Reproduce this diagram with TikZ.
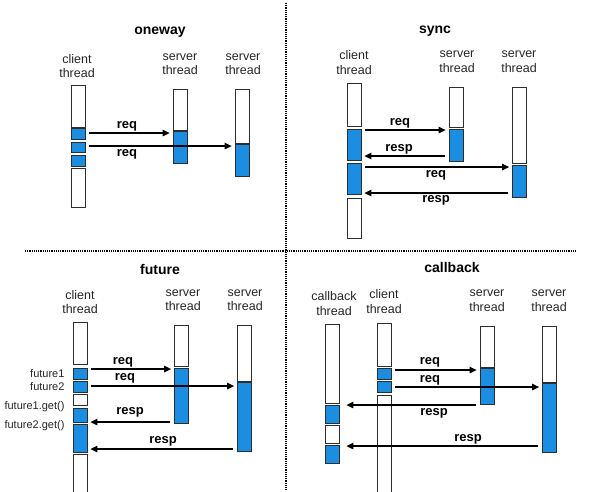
\documentclass[tikz,border=0pt]{standalone}
\usepackage{fontspec}
\setmainfont{Liberation Sans}
\usetikzlibrary{arrows.meta}
\definecolor{barblue}{RGB}{28,142,226}
\definecolor{edge}{RGB}{45,45,45}
\newcommand\bx[5]{\node[#1,minimum height={(#5-#4)*1pt}] (#2) at (#3,{(#4+#5)/2}) {};}
\tikzset{
  wb/.style={draw=edge,line width=0.8pt,fill=white,minimum width=14pt,inner sep=0pt},
  bb/.style={draw=edge,line width=0.8pt,fill=barblue,minimum width=14pt,inner sep=0pt},
  arr/.style={line width=1.3pt,-{Triangle[length=7pt,width=6.5pt]},shorten <=4pt,shorten >=3pt},
  ttl/.style={font=\fontsize{14}{16}\selectfont\bfseries},
  thr/.style={font=\fontsize{12.5}{14.5}\selectfont,align=center,text=black!85},
  lbl/.style={font=\fontsize{13}{15}\selectfont\bfseries},
  side/.style={font=\fontsize{11}{13}\selectfont,anchor=east,text=black!85},
  divider/.style={line width=1.1pt,dash pattern=on 1.1pt off 1.1pt}
}
\begin{document}
\begin{tikzpicture}[x=1pt,y=-1pt]
\useasboundingbox (0,0) rectangle (600,491);
\fill[white] (0,0) rectangle (600,491);
% dividers
\draw[divider] (286,3) -- (286,491);
\draw[divider] (25,251) -- (577,251);

% ===== oneway =====
\node[ttl] (ow-t) at (160,32) {oneway};
\node[thr] (ow-tc) at (77,66) {client\\thread};
\node[thr] (ow-ta) at (180,64) {server\\thread};
\node[thr] (ow-tb) at (243,64) {server\\thread};
\bx{wb}{ow-c1}{78}{85}{127}
\bx{bb}{ow-c2}{78}{128}{139}
\bx{bb}{ow-c3}{78}{142}{152}
\bx{bb}{ow-c4}{78}{155}{166}
\bx{wb}{ow-c5}{78}{168}{207}
\bx{wb}{ow-a1}{180}{89}{130}
\bx{bb}{ow-a2}{180}{131}{163}
\bx{wb}{ow-b1}{242}{89}{143}
\bx{bb}{ow-b2}{242}{144}{176}
\draw[arr] (ow-c2.east |- 0,133) -- (ow-a2.west |- 0,133);
\draw[arr] (ow-c3.east |- 0,146) -- (ow-b2.west |- 0,146);
\node[lbl] (ow-l1) at (127,126) {req};
\node[lbl] (ow-l2) at (127,154) {req};

% ===== sync =====
\node[ttl] (sy-t) at (435,31) {sync};
\node[thr] (sy-tc) at (354,62.5) {client\\thread};
\node[thr] (sy-ta) at (457,61.5) {server\\thread};
\node[thr] (sy-tb) at (519,61.5) {server\\thread};
\bx{wb}{sy-c1}{354}{83}{126}
\bx{bb}{sy-c2}{354}{129}{160}
\bx{bb}{sy-c3}{354}{163}{194}
\bx{wb}{sy-c4}{354}{198}{238}
\bx{wb}{sy-a1}{456}{87}{127}
\bx{bb}{sy-a2}{456}{129}{161}
\bx{wb}{sy-b1}{519.5}{87}{163}
\bx{bb}{sy-b2}{519.5}{165}{197}
\draw[arr] (sy-c2.east |- 0,130) -- (sy-a2.west |- 0,130);
\draw[arr] (sy-a2.west |- 0,156) -- (sy-c2.east |- 0,156);
\draw[arr] (sy-c3.east |- 0,167) -- (sy-b2.west |- 0,167);
\draw[arr] (sy-b2.west |- 0,193) -- (sy-c3.east |- 0,193);
\node[lbl] (sy-l1) at (400,123) {req};
\node[lbl] (sy-l2) at (399,149) {resp};
\node[lbl] (sy-l3) at (436,175) {req};
\node[lbl] (sy-l4) at (436,200) {resp};

% ===== future =====
\node[ttl] (fu-t) at (160,269) {future};
\node[thr] (fu-tc) at (80,302) {client\\thread};
\node[thr] (fu-ta) at (183,300) {server\\thread};
\node[thr] (fu-tb) at (245,300) {server\\thread};
\bx{wb}{fu-c1}{80}{322}{364}
\bx{bb}{fu-c2}{80}{368}{379}
\bx{bb}{fu-c3}{80}{381}{392}
\bx{wb}{fu-c4}{80}{394}{405}
\bx{bb}{fu-c5}{80}{408}{422}
\bx{bb}{fu-c6}{80}{424}{452}
\bx{wb}{fu-c7}{80}{454}{495}
\bx{wb}{fu-a1}{181.5}{325}{366}
\bx{bb}{fu-a2}{181.5}{368}{423}
\bx{wb}{fu-b1}{244.5}{325}{381}
\bx{bb}{fu-b2}{244.5}{382}{451}
\draw[arr] (fu-c2.east |- 0,369) -- (fu-a2.west |- 0,369);
\draw[arr] (fu-c3.east |- 0,386) -- (fu-b2.west |- 0,386);
\draw[arr] (fu-a2.west |- 0,422) -- (fu-c5.east |- 0,422);
\draw[arr] (fu-b2.west |- 0,449) -- (fu-c6.east |- 0,449);
\node[lbl] (fu-l1) at (123,362) {req};
\node[lbl] (fu-l2) at (125,378) {req};
\node[lbl] (fu-l3) at (130,412) {resp};
\node[lbl] (fu-l4) at (163,441) {resp};
\node[side] (fu-s1) at (68,374) {future1};
\node[side] (fu-s2) at (68,387) {future2};
\node[side] (fu-s3) at (68,407) {future1.get()};
\node[side] (fu-s4) at (68,426) {future2.get()};

% ===== callback =====
\node[ttl] (cb-t) at (452,267) {callback};
\node[thr] (cb-tk) at (334,303.5) {callback\\thread};
\node[thr] (cb-tc) at (384,301.5) {client\\thread};
\node[thr] (cb-ta) at (487,300.5) {server\\thread};
\node[thr] (cb-tb) at (549,300.5) {server\\thread};
\bx{wb}{cb-k1}{332}{324}{403}
\bx{bb}{cb-k2}{332}{405}{423}
\bx{wb}{cb-k3}{332}{425}{443}
\bx{bb}{cb-k4}{332}{445}{463}
\bx{wb}{cb-c1}{384}{323}{366}
\bx{bb}{cb-c2}{384}{368}{379}
\bx{bb}{cb-c3}{384}{381}{392}
\bx{wb}{cb-c4}{384}{395}{495}
\bx{wb}{cb-a1}{487}{326}{367}
\bx{bb}{cb-a2}{487}{368}{404}
\bx{wb}{cb-b1}{549.5}{326}{382}
\bx{bb}{cb-b2}{549.5}{383}{452}
\draw[arr] (cb-c2.east |- 0,370) -- (cb-a2.west |- 0,370);
\draw[arr] (cb-c3.east |- 0,387) -- (cb-b2.west |- 0,387);
\draw[arr,shorten >=7pt] (cb-a2.west |- 0,405) -- (cb-k2.east |- 0,405);
\draw[arr,shorten >=7pt] (cb-b2.west |- 0,446) -- (cb-k4.east |- 0,446);
\node[lbl] (cb-l1) at (430,362) {req};
\node[lbl] (cb-l2) at (430,380) {req};
\node[lbl] (cb-l3) at (434,413) {resp};
\node[lbl] (cb-l4) at (468,439) {resp};
\end{tikzpicture}
\end{document}
